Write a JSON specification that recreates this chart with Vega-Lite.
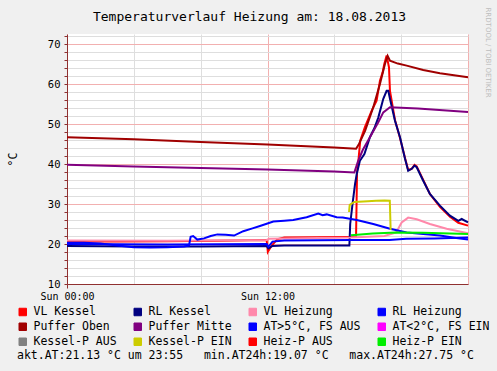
{
  "$schema": "https://vega.github.io/schema/vega-lite/v6.json",
  "autosize": "none",
  "width": 401,
  "height": 250,
  "padding": {"left": 67, "top": 34, "right": 29, "bottom": 87},
  "background": "#f0f0f0",
  "config": {"view": {"stroke": null, "fill": "white"}, "font": "DejaVu Sans Mono"},
  "title": {"text": "Temperaturverlauf Heizung am: 18.08.2013", "font": "DejaVu Sans Mono", "fontSize": 13, "fontWeight": "normal", "color": "#000000", "anchor": "middle", "frame": "group", "dx": -18, "baseline": "bottom", "offset": -30},
  "datasets": {
    "t": [
      {"s": "VL Kessel", "h": 0, "v": 20.6}, {"s": "VL Kessel", "h": 3, "v": 20.6}, {"s": "VL Kessel", "h": 6, "v": 20.7}, {"s": "VL Kessel", "h": 9, "v": 20.8}, {"s": "VL Kessel", "h": 11.95, "v": 21.0}, {"s": "VL Kessel", "h": 12.02, "v": 18.0}, {"s": "VL Kessel", "h": 12.25, "v": 19.6}, {"s": "VL Kessel", "h": 12.6, "v": 21.2}, {"s": "VL Kessel", "h": 13, "v": 21.6}, {"s": "VL Kessel", "h": 15, "v": 21.7}, {"s": "VL Kessel", "h": 17.3, "v": 21.8}, {"s": "VL Kessel", "h": 17.36, "v": 38}, {"s": "VL Kessel", "h": 17.45, "v": 41.3}, {"s": "VL Kessel", "h": 17.55, "v": 45.8}, {"s": "VL Kessel", "h": 17.83, "v": 49.2}, {"s": "VL Kessel", "h": 18.23, "v": 53.3}, {"s": "VL Kessel", "h": 18.53, "v": 55.8}, {"s": "VL Kessel", "h": 18.73, "v": 60.8}, {"s": "VL Kessel", "h": 18.89, "v": 62.9}, {"s": "VL Kessel", "h": 18.99, "v": 65}, {"s": "VL Kessel", "h": 19.13, "v": 67.1}, {"s": "VL Kessel", "h": 19.27, "v": 64.2}, {"s": "VL Kessel", "h": 19.33, "v": 58.3}, {"s": "VL Kessel", "h": 19.63, "v": 51}, {"s": "VL Kessel", "h": 19.93, "v": 46.5}, {"s": "VL Kessel", "h": 20.23, "v": 41.5}, {"s": "VL Kessel", "h": 20.42, "v": 38.5}, {"s": "VL Kessel", "h": 20.63, "v": 38.8}, {"s": "VL Kessel", "h": 20.8, "v": 39.8}, {"s": "VL Kessel", "h": 20.93, "v": 39.4}, {"s": "VL Kessel", "h": 21.32, "v": 36}, {"s": "VL Kessel", "h": 21.72, "v": 32.5}, {"s": "VL Kessel", "h": 22.32, "v": 29.3}, {"s": "VL Kessel", "h": 22.92, "v": 26.8}, {"s": "VL Kessel", "h": 23.42, "v": 25.3}, {"s": "VL Kessel", "h": 24, "v": 24.6},
      {"s": "RL Kessel", "h": 0, "v": 19.5}, {"s": "RL Kessel", "h": 4, "v": 19.4}, {"s": "RL Kessel", "h": 8, "v": 19.4}, {"s": "RL Kessel", "h": 11.95, "v": 19.5}, {"s": "RL Kessel", "h": 12.05, "v": 18.9}, {"s": "RL Kessel", "h": 12.3, "v": 19.5}, {"s": "RL Kessel", "h": 13, "v": 19.6}, {"s": "RL Kessel", "h": 16.9, "v": 19.6}, {"s": "RL Kessel", "h": 16.95, "v": 25}, {"s": "RL Kessel", "h": 17.1, "v": 30.4}, {"s": "RL Kessel", "h": 17.24, "v": 35}, {"s": "RL Kessel", "h": 17.34, "v": 37.5}, {"s": "RL Kessel", "h": 17.53, "v": 40.8}, {"s": "RL Kessel", "h": 17.8, "v": 42.5}, {"s": "RL Kessel", "h": 18.13, "v": 46.7}, {"s": "RL Kessel", "h": 18.4, "v": 49}, {"s": "RL Kessel", "h": 18.63, "v": 51.6}, {"s": "RL Kessel", "h": 18.93, "v": 56.3}, {"s": "RL Kessel", "h": 19.13, "v": 58.3}, {"s": "RL Kessel", "h": 19.23, "v": 58.3}, {"s": "RL Kessel", "h": 19.33, "v": 56.3}, {"s": "RL Kessel", "h": 19.63, "v": 50.8}, {"s": "RL Kessel", "h": 19.93, "v": 46.7}, {"s": "RL Kessel", "h": 20.23, "v": 41.3}, {"s": "RL Kessel", "h": 20.42, "v": 38.3}, {"s": "RL Kessel", "h": 20.63, "v": 38.8}, {"s": "RL Kessel", "h": 20.8, "v": 39.6}, {"s": "RL Kessel", "h": 20.93, "v": 39.2}, {"s": "RL Kessel", "h": 21.32, "v": 35.8}, {"s": "RL Kessel", "h": 21.72, "v": 32.5}, {"s": "RL Kessel", "h": 22.32, "v": 29.6}, {"s": "RL Kessel", "h": 22.92, "v": 27.1}, {"s": "RL Kessel", "h": 23.42, "v": 25.8}, {"s": "RL Kessel", "h": 23.62, "v": 26.25}, {"s": "RL Kessel", "h": 24, "v": 25.4},
      {"s": "VL Heizung", "h": 0, "v": 20.9}, {"s": "VL Heizung", "h": 6, "v": 20.8}, {"s": "VL Heizung", "h": 11.95, "v": 21.0}, {"s": "VL Heizung", "h": 12.1, "v": 21.3}, {"s": "VL Heizung", "h": 17, "v": 21.6}, {"s": "VL Heizung", "h": 18, "v": 21.8}, {"s": "VL Heizung", "h": 19, "v": 22.0}, {"s": "VL Heizung", "h": 19.7, "v": 22.9}, {"s": "VL Heizung", "h": 20.03, "v": 25.4}, {"s": "VL Heizung", "h": 20.42, "v": 26.6}, {"s": "VL Heizung", "h": 20.93, "v": 26.2}, {"s": "VL Heizung", "h": 21.72, "v": 25}, {"s": "VL Heizung", "h": 22.72, "v": 23.8}, {"s": "VL Heizung", "h": 24, "v": 22.7},
      {"s": "RL Heizung", "h": 0, "v": 20.0}, {"s": "RL Heizung", "h": 6, "v": 19.9}, {"s": "RL Heizung", "h": 11.95, "v": 20.0}, {"s": "RL Heizung", "h": 12.05, "v": 19.3}, {"s": "RL Heizung", "h": 12.3, "v": 20.6}, {"s": "RL Heizung", "h": 13, "v": 20.9}, {"s": "RL Heizung", "h": 17, "v": 21.0}, {"s": "RL Heizung", "h": 19.3, "v": 21.0}, {"s": "RL Heizung", "h": 20.3, "v": 21.3}, {"s": "RL Heizung", "h": 22, "v": 21.4}, {"s": "RL Heizung", "h": 24, "v": 21.6},
      {"s": "Puffer Oben", "h": 0, "v": 46.7}, {"s": "Puffer Oben", "h": 4, "v": 46.2}, {"s": "Puffer Oben", "h": 8, "v": 45.5}, {"s": "Puffer Oben", "h": 12, "v": 44.9}, {"s": "Puffer Oben", "h": 16, "v": 44.1}, {"s": "Puffer Oben", "h": 17.3, "v": 43.8}, {"s": "Puffer Oben", "h": 17.45, "v": 44.8}, {"s": "Puffer Oben", "h": 17.84, "v": 48.3}, {"s": "Puffer Oben", "h": 18.33, "v": 54.2}, {"s": "Puffer Oben", "h": 18.73, "v": 60}, {"s": "Puffer Oben", "h": 19.03, "v": 65}, {"s": "Puffer Oben", "h": 19.19, "v": 67.0}, {"s": "Puffer Oben", "h": 19.33, "v": 65.8}, {"s": "Puffer Oben", "h": 19.8, "v": 65.1}, {"s": "Puffer Oben", "h": 20.33, "v": 64.6}, {"s": "Puffer Oben", "h": 21.32, "v": 63.5}, {"s": "Puffer Oben", "h": 22.32, "v": 62.7}, {"s": "Puffer Oben", "h": 24, "v": 61.7},
      {"s": "Puffer Mitte", "h": 0, "v": 39.8}, {"s": "Puffer Mitte", "h": 4, "v": 39.4}, {"s": "Puffer Mitte", "h": 8, "v": 39.0}, {"s": "Puffer Mitte", "h": 12, "v": 38.6}, {"s": "Puffer Mitte", "h": 16, "v": 38.1}, {"s": "Puffer Mitte", "h": 17.2, "v": 37.9}, {"s": "Puffer Mitte", "h": 17.4, "v": 40.5}, {"s": "Puffer Mitte", "h": 17.7, "v": 43.5}, {"s": "Puffer Mitte", "h": 18.13, "v": 46.7}, {"s": "Puffer Mitte", "h": 18.63, "v": 50.4}, {"s": "Puffer Mitte", "h": 18.93, "v": 52.9}, {"s": "Puffer Mitte", "h": 19.33, "v": 54.2}, {"s": "Puffer Mitte", "h": 21, "v": 53.9}, {"s": "Puffer Mitte", "h": 24, "v": 53.0},
      {"s": "AT>5°C, FS AUS", "h": 0, "v": 20.3}, {"s": "AT>5°C, FS AUS", "h": 1, "v": 20.3}, {"s": "AT>5°C, FS AUS", "h": 2, "v": 20.1}, {"s": "AT>5°C, FS AUS", "h": 3, "v": 19.6}, {"s": "AT>5°C, FS AUS", "h": 4, "v": 19.2}, {"s": "AT>5°C, FS AUS", "h": 5, "v": 19.1}, {"s": "AT>5°C, FS AUS", "h": 6, "v": 19.2}, {"s": "AT>5°C, FS AUS", "h": 7, "v": 19.4}, {"s": "AT>5°C, FS AUS", "h": 7.3, "v": 19.6}, {"s": "AT>5°C, FS AUS", "h": 7.4, "v": 21.8}, {"s": "AT>5°C, FS AUS", "h": 7.55, "v": 22.0}, {"s": "AT>5°C, FS AUS", "h": 7.8, "v": 21.1}, {"s": "AT>5°C, FS AUS", "h": 8.2, "v": 21.4}, {"s": "AT>5°C, FS AUS", "h": 8.6, "v": 22.0}, {"s": "AT>5°C, FS AUS", "h": 9.0, "v": 22.4}, {"s": "AT>5°C, FS AUS", "h": 9.5, "v": 22.3}, {"s": "AT>5°C, FS AUS", "h": 10, "v": 22.1}, {"s": "AT>5°C, FS AUS", "h": 10.55, "v": 23.2}, {"s": "AT>5°C, FS AUS", "h": 11.1, "v": 23.9}, {"s": "AT>5°C, FS AUS", "h": 11.55, "v": 24.5}, {"s": "AT>5°C, FS AUS", "h": 12.35, "v": 25.6}, {"s": "AT>5°C, FS AUS", "h": 13, "v": 25.8}, {"s": "AT>5°C, FS AUS", "h": 13.54, "v": 26.0}, {"s": "AT>5°C, FS AUS", "h": 14.34, "v": 26.7}, {"s": "AT>5°C, FS AUS", "h": 15.04, "v": 27.6}, {"s": "AT>5°C, FS AUS", "h": 15.3, "v": 27.2}, {"s": "AT>5°C, FS AUS", "h": 15.54, "v": 27.4}, {"s": "AT>5°C, FS AUS", "h": 16.14, "v": 26.7}, {"s": "AT>5°C, FS AUS", "h": 16.5, "v": 26.6}, {"s": "AT>5°C, FS AUS", "h": 17.34, "v": 26.0}, {"s": "AT>5°C, FS AUS", "h": 18.33, "v": 25.0}, {"s": "AT>5°C, FS AUS", "h": 19.33, "v": 23.8}, {"s": "AT>5°C, FS AUS", "h": 20.33, "v": 22.9}, {"s": "AT>5°C, FS AUS", "h": 21.32, "v": 22.5}, {"s": "AT>5°C, FS AUS", "h": 22.32, "v": 22.1}, {"s": "AT>5°C, FS AUS", "h": 23.3, "v": 21.5}, {"s": "AT>5°C, FS AUS", "h": 24, "v": 21.13},
      {"s": "Kessel-P EIN", "h": 16.88, "v": 28.0}, {"s": "Kessel-P EIN", "h": 16.92, "v": 29.8}, {"s": "Kessel-P EIN", "h": 17.2, "v": 30.5}, {"s": "Kessel-P EIN", "h": 18, "v": 30.7}, {"s": "Kessel-P EIN", "h": 18.5, "v": 30.8}, {"s": "Kessel-P EIN", "h": 19.0, "v": 30.9}, {"s": "Kessel-P EIN", "h": 19.32, "v": 30.8}, {"s": "Kessel-P EIN", "h": 19.37, "v": 23.5},
      {"s": "Heiz-P EIN", "h": 17.0, "v": 22.2}, {"s": "Heiz-P EIN", "h": 18.3, "v": 22.6}, {"s": "Heiz-P EIN", "h": 19.7, "v": 22.9}, {"s": "Heiz-P EIN", "h": 21.3, "v": 22.8}, {"s": "Heiz-P EIN", "h": 24, "v": 22.5}
    ]
  },
  "resolve": {"axis": {"y": "independent"}},
  "layer": [
    {
      "data": {"name": "t"},
      "mark": {"type": "line", "strokeWidth": 2},
      "encoding": {
        "x": {"field": "h", "type": "quantitative", "scale": {"domain": [0, 24], "nice": false, "zero": false},
          "axis": {"values": [0,1,2,3,4,5,6,7,8,9,10,11,12,13,14,15,16,17,18,19,20,21,22,23,24],
            "labelExpr": "datum.value == 0 ? 'Sun 00:00' : (datum.value == 12 ? 'Sun 12:00' : '')",
            "grid": true, "gridColor": {"condition": {"test": "datum.value % 6 == 0", "value": "#f2b0b0"}, "value": "#dedede"},
            "domainColor": "#903030", "tickColor": "#903030", "tickSize": 4,
            "tickOpacity": {"condition": {"test": "datum.value == 0", "value": 1}, "value": 0},
            "labelFlush": false, "labelOverlap": false, "labelFont": "DejaVu Sans Mono", "labelFontSize": 10, "labelColor": "#000000", "labelPadding": 3, "title": null}},
        "y": {"field": "v", "type": "quantitative", "scale": {"domain": [10, 72.5], "nice": false, "zero": false},
          "axis": {"orient": "left", "values": [10,12,14,16,18,20,22,24,26,28,30,32,34,36,38,40,42,44,46,48,50,52,54,56,58,60,62,64,66,68,70,72],
            "labelExpr": "datum.value % 10 == 0 ? datum.label : ''",
            "grid": true, "gridColor": {"condition": {"test": "datum.value % 10 == 0", "value": "#f2b0b0"}, "value": "#dedede"},
            "domainColor": "#903030", "tickColor": "#903030", "tickSize": 3,
            "labelOverlap": false, "labelFont": "DejaVu Sans Mono", "labelFontSize": 10.5, "labelColor": "#000000", "labelPadding": 4,
            "title": "°C", "titleFont": "DejaVu Sans Mono", "titleFontSize": 11.5, "titleFontWeight": "normal", "titleColor": "#000000", "titlePadding": 29}},
        "color": {"field": "s", "type": "nominal",
          "scale": {"domain": ["VL Kessel", "RL Kessel", "VL Heizung", "RL Heizung", "Puffer Oben", "Puffer Mitte", "AT>5°C, FS AUS", "AT<2°C, FS EIN", "Kessel-P AUS", "Kessel-P EIN", "Heiz-P AUS", "Heiz-P EIN"],
            "range": ["#ff0000", "#000080", "#ff88aa", "#0000ff", "#a00000", "#800080", "#0000ff", "#ff00ff", "#808080", "#cccc00", "#ff0000", "#00ee00"]},
          "legend": {"orient": "none", "legendX": -50, "legendY": 272, "columns": 4, "direction": "horizontal", "padding": 0,
            "symbolType": "square", "symbolSize": 56, "symbolStrokeWidth": 1,
            "labelFont": "DejaVu Sans Mono", "labelFontSize": 11.5, "labelColor": "#000000", "labelOffset": 5, "labelLimit": 300,
            "columnPadding": 15, "rowPadding": 2,
            "title": "akt.AT:21.13 °C um 23:55\u00a0\u00a0\u00a0min.AT24h:19.07 °C\u00a0\u00a0\u00a0max.AT24h:27.75 °C",
            "titleOrient": "bottom", "titleAnchor": "start", "titleFont": "DejaVu Sans Mono", "titleFontSize": 11.5, "titleFontWeight": "normal", "titleColor": "#000000", "titlePadding": 3, "titleLimit": 700,
            "encode": {"symbols": {"update": {"fill": {"scale": "color", "field": "value"}, "fillOpacity": {"value": 1}, "stroke": {"value": "#404040"}, "strokeWidth": {"value": 1}}}}}}
      }
    },
    {
      "mark": {"type": "rule", "color": "#903030"},
      "encoding": {"x": {"datum": 24}, "x2": {"datum": 24.15}, "y": {"datum": 10, "axis": null}}
    },
    {
      "mark": {"type": "point", "shape": "triangle-right", "filled": true, "size": 24, "color": "#800000", "opacity": 1},
      "encoding": {"x": {"datum": 24.2}, "y": {"datum": 10, "axis": null}}
    },
    {
      "mark": {"type": "rule", "color": "#903030"},
      "encoding": {"x": {"datum": 0}, "y": {"datum": 72.5,
        "axis": {"orient": "right", "domain": false, "ticks": false, "labels": false, "grid": false,
          "title": "RRDTOOL / TOBI OETIKER", "titleAngle": 90, "titleFont": "DejaVu Sans", "titleFontSize": 7, "titleFontWeight": "normal", "titleColor": "#bdbdbd",
          "titleX": 19.5, "titleY": -27, "titleAlign": "left", "titleBaseline": "middle"}},
        "y2": {"datum": 73.4}}
    },
    {
      "mark": {"type": "point", "shape": "triangle-up", "filled": true, "size": 24, "color": "#800000", "opacity": 1},
      "encoding": {"x": {"datum": 0}, "y": {"datum": 73.6, "axis": null}}
    }
  ]
}
